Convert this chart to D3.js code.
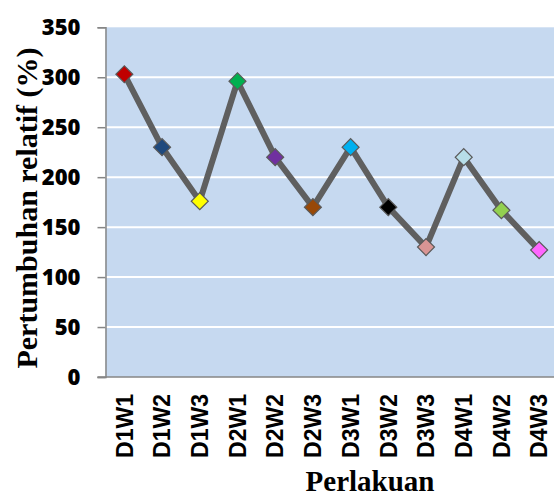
<!DOCTYPE html>
<html>
<head>
<meta charset="utf-8">
<script src="https://cdn.jsdelivr.net/npm/d3@7"></script>
<style>
  body { margin: 0; background: #fff; }
  svg { display: block; }
</style>
</head>
<body>
<svg id="chart"></svg>
<script>
// Data
const categories = ['D1W1', 'D1W2', 'D1W3', 'D2W1', 'D2W2', 'D2W3',
                    'D3W1', 'D3W2', 'D3W3', 'D4W1', 'D4W2', 'D4W3'];
const values = [303, 230, 176, 296, 220, 170, 230, 170, 130, 220, 167, 127];
const markerColors = ['#C00000', '#1F497D', '#FFFF00', '#00B050', '#7030A0', '#984807',
                      '#00B0F0', '#000000', '#D99594', '#B7DEE8', '#92D050', '#FF66FF'];
const yTicks = [0, 50, 100, 150, 200, 250, 300, 350];

// Size
const width = 554;
const height = 497;
const plot = { left: 105.5, right: 558, top: 27.3, bottom: 377 };

const svg = d3.select('#chart')
  .attr('width', width)
  .attr('height', height);

// Scales
const x = d3.scaleBand()
  .domain(categories)
  .range([plot.left, plot.right]);

const y = d3.scaleLinear()
  .domain([0, 350])
  .range([plot.bottom, plot.top]);

// Plot background
svg.append('rect')
  .attr('x', plot.left)
  .attr('y', plot.top)
  .attr('width', plot.right - plot.left)
  .attr('height', plot.bottom - plot.top)
  .style('fill', '#C6D9F0');

// Gridlines
svg.append('g')
  .selectAll('line')
  .data(yTicks.filter(d => d > 0 && d < 350))
  .enter()
  .append('line')
  .attr('x1', plot.left)
  .attr('x2', plot.right)
  .attr('y1', d => y(d))
  .attr('y2', d => y(d))
  .style('stroke', '#fff')
  .style('stroke-width', 2);

// Y axis
const yAxis = svg.append('g')
  .attr('transform', `translate(${plot.left},0)`)
  .call(d3.axisLeft(y).tickValues(yTicks).tickSize(8).tickPadding(17));

yAxis.select('.domain').style('stroke', '#868686').style('stroke-width', 1.5);
yAxis.selectAll('.tick line').style('stroke', '#868686').style('stroke-width', 1.5);
yAxis.selectAll('.tick text')
  .style('font-family', '"Open Sans", sans-serif')
  .style('font-weight', '800')
  .style('font-size', '22px')
  .style('fill', '#000');

// X axis
const xAxis = svg.append('g')
  .attr('transform', `translate(0,${plot.bottom})`)
  .call(d3.axisBottom(x).tickSize(0).tickPadding(0));

xAxis.select('.domain').remove();
xAxis.append('line')
  .attr('x1', plot.left - 8)
  .attr('x2', plot.right)
  .style('stroke', '#868686')
  .style('stroke-width', 1.5);

xAxis.selectAll('.tick text')
  .attr('transform', 'rotate(-90)')
  .attr('x', -17)
  .attr('y', 0)
  .attr('dy', '0.36em')
  .style('text-anchor', 'end')
  .style('font-family', '"Liberation Sans", Arial, sans-serif')
  .style('font-weight', 'bold')
  .style('font-size', '23px')
  .style('fill', '#000');

// Line
const line = d3.line()
  .x((d, i) => x(categories[i]) + x.bandwidth() / 2)
  .y(d => y(d));

svg.append('path')
  .datum(values)
  .attr('d', line)
  .style('fill', 'none')
  .style('stroke', '#5F5F5F')
  .style('stroke-width', 6)
  .style('stroke-linejoin', 'round');

// Diamond markers
const diamond = d3.symbol().type(d3.symbolSquare).size(144);

svg.append('g')
  .selectAll('path')
  .data(values)
  .enter()
  .append('path')
  .attr('d', diamond)
  .attr('transform', (d, i) =>
    `translate(${x(categories[i]) + x.bandwidth() / 2},${y(d)}) rotate(45)`)
  .style('fill', (d, i) => markerColors[i])
  .style('stroke', '#5A5A5A')
  .style('stroke-width', 1.2);

// Axis titles
svg.append('text')
  .attr('transform', 'translate(37,208) rotate(-90)')
  .style('text-anchor', 'middle')
  .style('font-family', '"Liberation Serif", "Times New Roman", serif')
  .style('font-weight', 'bold')
  .style('font-size', '30px')
  .text('Pertumbuhan relatif (%)');

svg.append('text')
  .attr('x', 370)
  .attr('y', 491)
  .style('text-anchor', 'middle')
  .style('font-family', '"Liberation Serif", "Times New Roman", serif')
  .style('font-weight', 'bold')
  .style('font-size', '29px')
  .text('Perlakuan');
</script>
</body>
</html>
